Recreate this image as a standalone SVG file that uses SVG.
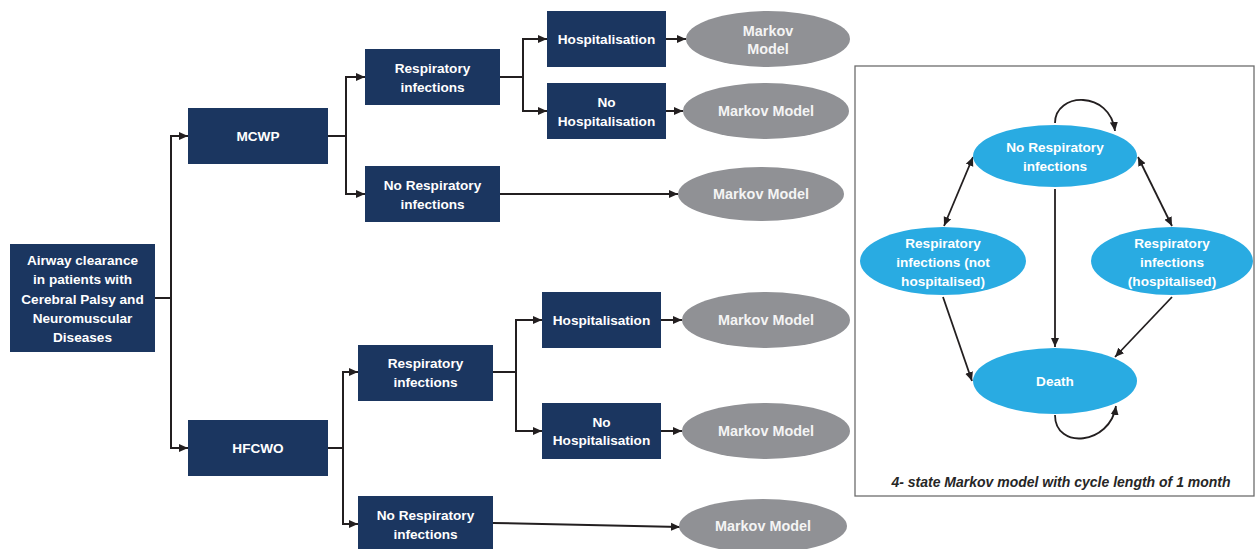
<svg xmlns="http://www.w3.org/2000/svg" width="1255" height="549" viewBox="0 0 1255 549">
<style>
.box{fill:#1b3660}
.gry{fill:#909195}
.blu{fill:#29abe2}
.t{font-family:"Liberation Sans",Arial,sans-serif;font-weight:bold;font-size:13.6px;fill:#ffffff;text-anchor:middle}
.tg{fill:#f4f4f4;font-size:14.4px}
.c{fill:none;stroke:#231f20;stroke-width:2}
.m{fill:none;stroke:#231f20;stroke-width:1.8}
.cap{font-family:"Liberation Sans",Arial,sans-serif;font-weight:bold;font-style:italic;font-size:14px;fill:#262626;text-anchor:middle}
</style>
<defs>
<marker id="ah" markerUnits="userSpaceOnUse" markerWidth="10" markerHeight="9" refX="9" refY="4.5" orient="auto">
<path d="M0,0.5 L9,4.5 L0,8.5 z" fill="#231f20"/>
</marker>
<marker id="ahs" markerUnits="userSpaceOnUse" markerWidth="10" markerHeight="9" refX="9" refY="4.5" orient="auto-start-reverse">
<path d="M0,0.5 L9,4.5 L0,8.5 z" fill="#231f20"/>
</marker>
</defs>
<rect x="855" y="66" width="399" height="430" fill="#ffffff" stroke="#6d6d6d" stroke-width="1.3"/>
<g id="connectors">
<polyline class="c" points="155,298 171,298"/>
<polyline class="c" points="188,136 171,136 171,448 188,448" marker-start="url(#ahs)" marker-end="url(#ah)"/>
<polyline class="c" points="328,136 346,136"/>
<polyline class="c" points="365,77 346,77 346,194 365,194" marker-start="url(#ahs)" marker-end="url(#ah)"/>
<polyline class="c" points="500,77 523,77"/>
<polyline class="c" points="547,39 523,39 523,111 547,111" marker-start="url(#ahs)" marker-end="url(#ah)"/>
<line class="c" x1="666" y1="39" x2="686" y2="39" marker-end="url(#ah)"/>
<line class="c" x1="666" y1="111" x2="683" y2="111" marker-end="url(#ah)"/>
<line class="c" x1="500" y1="194" x2="678" y2="194" marker-end="url(#ah)"/>
<polyline class="c" points="328,448 343,448"/>
<polyline class="c" points="358,372 343,372 343,524 358,524" marker-start="url(#ahs)" marker-end="url(#ah)"/>
<polyline class="c" points="493,372 516,372"/>
<polyline class="c" points="542,320 516,320 516,431 542,431" marker-start="url(#ahs)" marker-end="url(#ah)"/>
<line class="c" x1="661" y1="320" x2="682" y2="320" marker-end="url(#ah)"/>
<line class="c" x1="661" y1="431" x2="682" y2="431" marker-end="url(#ah)"/>
<line class="c" x1="493" y1="523" x2="680" y2="527" marker-end="url(#ah)"/>
<path class="m" d="M1055,123 C1055,92 1110,90 1115,131" marker-end="url(#ah)"/>
<line class="m" x1="973" y1="157" x2="944" y2="226" marker-start="url(#ahs)" marker-end="url(#ah)"/>
<line class="m" x1="1138" y1="157" x2="1172" y2="226" marker-start="url(#ahs)" marker-end="url(#ah)"/>
<line class="m" x1="1055" y1="189" x2="1055" y2="347" marker-end="url(#ah)"/>
<line class="m" x1="943" y1="297" x2="972" y2="381" marker-end="url(#ah)"/>
<line class="m" x1="1172" y1="297" x2="1115" y2="357" stroke-width="1.2" marker-end="url(#ah)"/>
<path class="m" d="M1055,415 C1055,450 1110,445 1116,406" marker-end="url(#ah)"/>
</g>
<g id="root"><rect class="box" x="10" y="244" width="145" height="108"/>
<text class="t" x="82.5" y="264.5">Airway clearance</text>
<text class="t" x="82.5" y="284">in patients with</text>
<text class="t" x="82.5" y="303.5">Cerebral Palsy and</text>
<text class="t" x="82.5" y="322.5">Neuromuscular</text>
<text class="t" x="82.5" y="341.5">Diseases</text></g>
<g id="mcwp"><rect class="box" x="188" y="108" width="140" height="56"/><text class="t" x="258" y="141">MCWP</text></g>
<g id="hfcwo"><rect class="box" x="188" y="420" width="140" height="56"/><text class="t" x="258" y="453">HFCWO</text></g>
<g id="mcwp-ri"><rect class="box" x="365" y="49" width="135" height="56"/><text class="t" x="432.5" y="72.5">Respiratory</text><text class="t" x="432.5" y="91.5">infections</text></g>
<g id="mcwp-nri"><rect class="box" x="365" y="166" width="135" height="56"/><text class="t" x="432.5" y="189.5">No Respiratory</text><text class="t" x="432.5" y="208.5">infections</text></g>
<g id="mcwp-hosp"><rect class="box" x="547" y="11" width="119" height="56"/><text class="t" x="606.5" y="44">Hospitalisation</text></g>
<g id="mcwp-nohosp"><rect class="box" x="547" y="83" width="119" height="56"/><text class="t" x="606.5" y="106.5">No</text><text class="t" x="606.5" y="125.5">Hospitalisation</text></g>
<g id="mm1"><ellipse class="gry" cx="768" cy="39" rx="82" ry="28"/><text class="t tg" x="768" y="35.5">Markov</text><text class="t tg" x="768" y="54">Model</text></g>
<g id="mm2"><ellipse class="gry" cx="766" cy="111" rx="83" ry="28"/><text class="t tg" x="766" y="116">Markov Model</text></g>
<g id="mm3"><ellipse class="gry" cx="761" cy="194" rx="83" ry="27"/><text class="t tg" x="761" y="199">Markov Model</text></g>
<g id="hfcwo-ri"><rect class="box" x="358" y="345" width="135" height="56"/><text class="t" x="425.5" y="368">Respiratory</text><text class="t" x="425.5" y="387">infections</text></g>
<g id="hfcwo-nri"><rect class="box" x="358" y="496" width="135" height="54"/><text class="t" x="425.5" y="519.5">No Respiratory</text><text class="t" x="425.5" y="538.5">infections</text></g>
<g id="hfcwo-hosp"><rect class="box" x="542" y="292" width="119" height="56"/><text class="t" x="601.5" y="325">Hospitalisation</text></g>
<g id="hfcwo-nohosp"><rect class="box" x="542" y="403" width="119" height="56"/><text class="t" x="601.5" y="426.5">No</text><text class="t" x="601.5" y="445">Hospitalisation</text></g>
<g id="mm4"><ellipse class="gry" cx="766" cy="320" rx="84" ry="28"/><text class="t tg" x="766" y="325">Markov Model</text></g>
<g id="mm5"><ellipse class="gry" cx="766" cy="431" rx="84" ry="28"/><text class="t tg" x="766" y="436">Markov Model</text></g>
<g id="mm6"><ellipse class="gry" cx="763" cy="526" rx="84" ry="27"/><text class="t tg" x="763" y="531">Markov Model</text></g>
<g id="s-nri"><ellipse class="blu" cx="1055" cy="156" rx="82" ry="31"/><text class="t" x="1055" y="152">No Respiratory</text><text class="t" x="1055" y="170.5">infections</text></g>
<g id="s-rinh"><ellipse class="blu" cx="943" cy="261" rx="83" ry="34"/><text class="t" x="943" y="247.5">Respiratory</text><text class="t" x="943" y="266.5">infections (not</text><text class="t" x="943" y="285.5">hospitalised)</text></g>
<g id="s-rih"><ellipse class="blu" cx="1172" cy="261" rx="81" ry="34"/><text class="t" x="1172" y="247.5">Respiratory</text><text class="t" x="1172" y="266.5">infections</text><text class="t" x="1172" y="285.5">(hospitalised)</text></g>
<g id="s-death"><ellipse class="blu" cx="1055" cy="381" rx="82" ry="33"/><text class="t" x="1055" y="386">Death</text></g>
<text class="cap" x="1061" y="487">4- state Markov model with cycle length of 1 month</text>
</svg>
